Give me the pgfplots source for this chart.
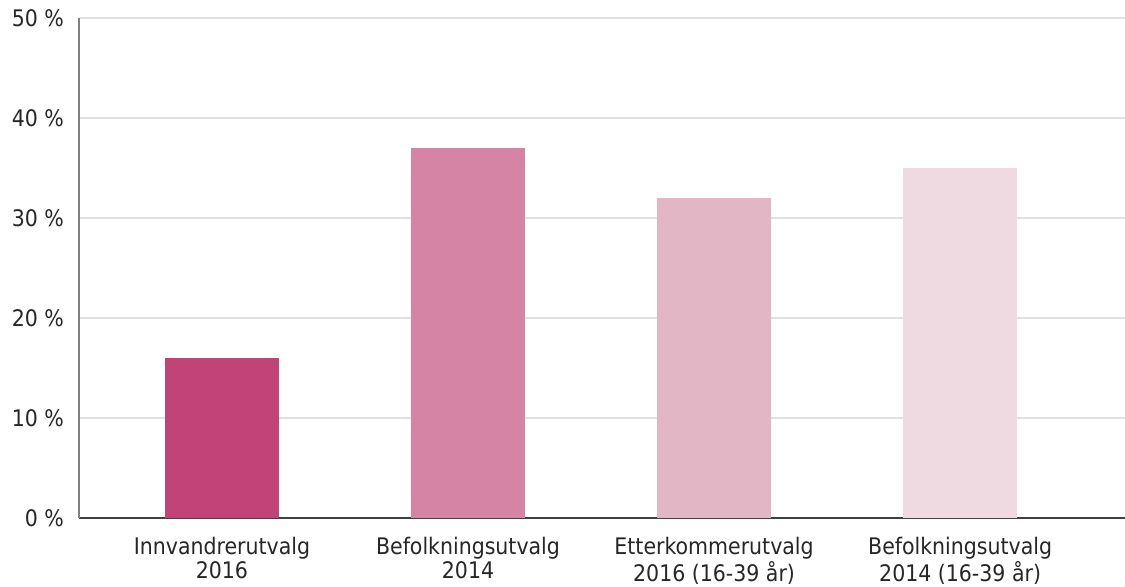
\documentclass[border=0pt]{standalone}
\usepackage{pgfplots}
\pgfplotsset{compat=1.18}
\usepackage{fontspec}
\setmainfont{DejaVu Sans Condensed}
\definecolor{c1}{HTML}{C04475}
\definecolor{c2}{HTML}{D684A5}
\definecolor{c3}{HTML}{E3B6C6}
\definecolor{c4}{HTML}{F0DAE2}
\definecolor{txt}{HTML}{262626}
\begin{document}
\begin{tikzpicture}
\begin{axis}[
  scale only axis,
  width=523pt, height=250pt,
  at={(0,0)}, anchor=south west,
  xmin=-0.581, xmax=3.67,
  ymin=0, ymax=50,
  ytick={0,10,20,30,40,50},
  yticklabels={0 \%,10 \%,20 \%,30 \%,40 \%,50 \%},
  xtick={0,1,2,3},
  xticklabels={Innvandrerutvalg\\2016, Befolkningsutvalg\\2014, Etterkommerutvalg\\2016 (16-39 år), Befolkningsutvalg\\2014 (16-39 år)},
  x tick label style={align=center, font=\fontsize{11.4}{12.1}\selectfont, text=txt, yshift=-6pt},
  y tick label style={font=\fontsize{11.4}{12.3}\selectfont, text=txt, xshift=-4pt},
  major tick length=0pt,
  ymajorgrids,
  grid style={color=black!12, line width=0.6pt},
  axis x line*=bottom,
  axis y line*=left,
  x axis line style={color=black!75, line width=0.8pt, -},
  y axis line style={color=black!50, line width=0.8pt, -},
  ybar, bar width=57pt,
  clip=false,
]
\addplot[fill=c1, draw=none, bar shift=0pt] coordinates {(0,16)};
\addplot[fill=c2, draw=none, bar shift=0pt] coordinates {(1,37)};
\addplot[fill=c3, draw=none, bar shift=0pt] coordinates {(2,32)};
\addplot[fill=c4, draw=none, bar shift=0pt] coordinates {(3,35)};
\end{axis}
\pgfresetboundingbox
\path[use as bounding box] (-39.5pt,-34.5pt) rectangle (523pt,259pt);
\end{tikzpicture}
\end{document}
